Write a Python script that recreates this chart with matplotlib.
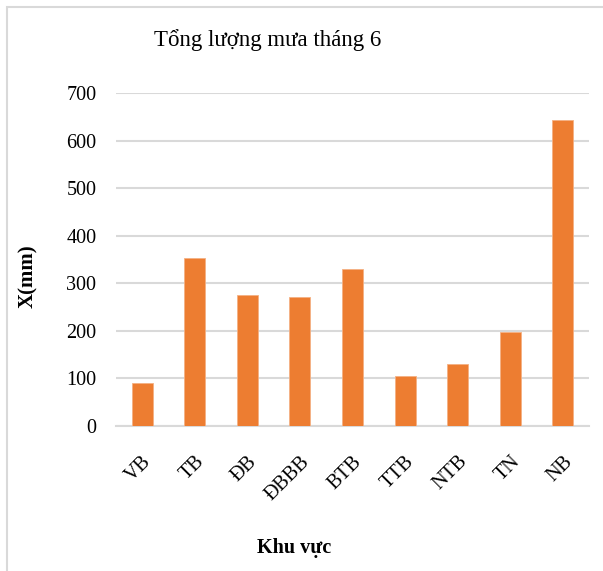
import numpy as np
import matplotlib
matplotlib.use("Agg")
from matplotlib import pyplot as plt
from matplotlib.patches import Rectangle

# Data
regions = ["VB", "TB", "ĐB", "ĐBBB", "BTB", "TTB", "NTB", "TN", "NB"]
rain = [90, 353, 276, 271, 330, 104, 130, 197, 643]
yticks = [0, 100, 200, 300, 400, 500, 600, 700]

plt.rcParams['font.family'] = ['Liberation Serif', 'DejaVu Serif']

fig = plt.figure(figsize=(6.03, 5.71), dpi=100)
ax = fig.add_axes([0.192, 0.2545, 0.785, 0.5825])

x = np.arange(len(regions))
ax.bar(x, rain, width=0.4, color='#ED7D31', edgecolor='#F4B183', linewidth=0.6, zorder=3)

ax.set_xlim(-0.5, len(regions) - 0.5)
ax.set_ylim(0, 700)
ax.set_yticks(yticks)
ax.set_yticklabels([str(v) for v in yticks], fontsize=14.5)
ax.set_xticks(x)
ax.set_xticklabels(regions, fontsize=14.5, rotation=45, ha='right', rotation_mode='anchor')
ax.tick_params(axis='x', length=0, pad=19)
ax.tick_params(axis='y', length=0, pad=14)
ax.grid(axis='y', color='#d9d9d9', linewidth=1.5, zorder=0)
for s in ['top', 'right', 'left']:
    ax.spines[s].set_visible(False)
ax.spines['bottom'].set_color('#d9d9d9')
ax.spines['bottom'].set_linewidth(1.5)

fig.text(268 / 603, 1 - 40 / 571, "Tổng lượng mưa tháng 6", ha='center', va='center', fontsize=16.5)
fig.text(28 / 603, 1 - 276 / 571, "X(mm)", rotation=90, ha='center', va='center',
         fontsize=15, fontweight='bold')
fig.text(294 / 603, 1 - 548 / 571, "Khu vực", ha='center', va='center',
         fontsize=14.5, fontweight='bold')

# chart border
fig.patches.append(Rectangle((7 / 603, -0.2), 1.2, 1.2 - 7 / 571,
                             transform=fig.transFigure, fill=False,
                             edgecolor='#d9d9d9', linewidth=1.5))

fig.savefig("out.png", dpi=100)
